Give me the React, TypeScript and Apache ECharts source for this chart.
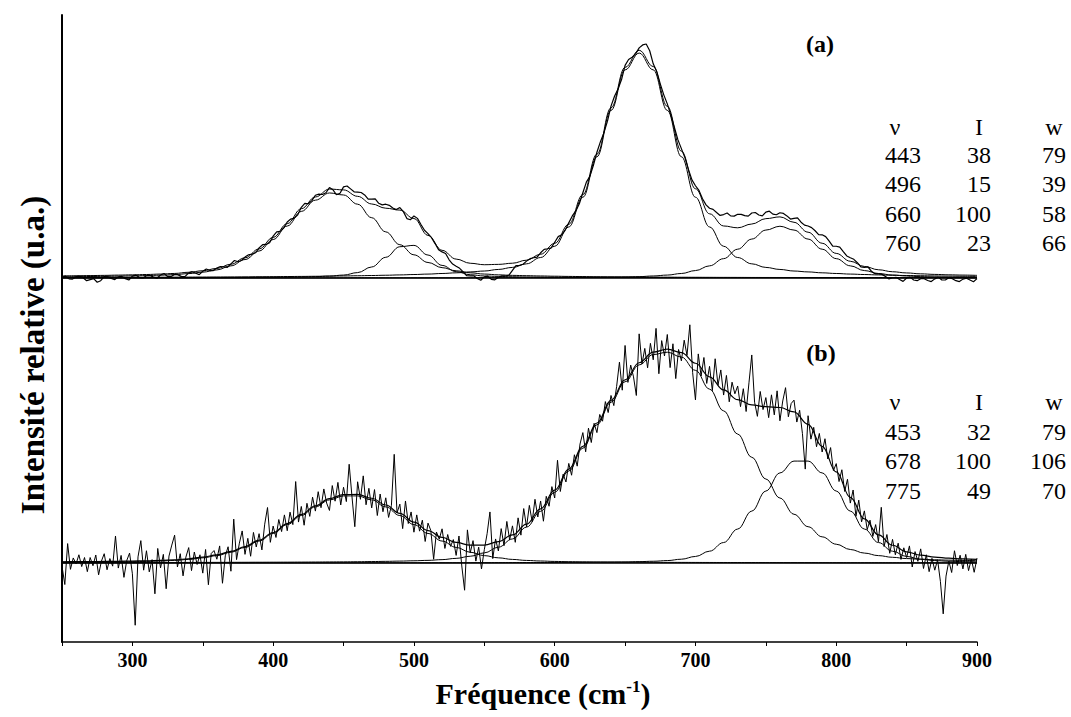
import React, { useEffect, useRef } from "react";
import * as echarts from "echarts";

// ---------- axis ----------
const X_MIN = 250;
const X_MAX = 900;
const X_LABELS = [300, 400, 500, 600, 700, 800, 900];

// ---------- fitted components (sampled every 10 cm-1 from 250) ----------
const FIT_START = 250;
const FIT_STEP = 10;

// panel (a)
const fitA_443 = [0.53,0.59,0.66,0.73,0.83,0.94,1.07,1.25,1.5,1.95,
  2.6,3.6,5.4,8.2,12.0,17.1,23.1,29.6,34.6,37.8,
  36.9,32.8,26.8,20.5,14.8,10.3,6.9,4.6,3.2,2.3,
  1.75,1.4,1.17,1.02,0.9,0.79,0.7,0.63,0.57,0.52,
  0.47,0.43,0.39,0.36,0.33,0.31,0.29,0.27,0.26,0.24,
  0.23,0.22,0.21,0.2,0.19,0.18,0.18,0.17,0.17,0.16,
  0.15,0.15,0.14,0.13,0.13,0.12];
const fitA_496 = [0.1,0.1,0.1,0.1,0.1,0.1,0.1,0.1,0.1,0.15,
  0.15,0.15,0.2,0.2,0.3,0.3,0.35,0.45,0.6,0.85,
  1.3,2.4,4.9,9.2,13.9,14.5,10.2,5.6,2.8,1.45,
  0.9,0.7,0.55,0.45,0.4,0.35,0.3,0.3,0.25,0.25,
  0.2,0.2,0.2,0.15,0.15,0.15,0.15,0.15,0.15,0.15,
  0.15,0.15,0.15,0.15,0.15,0.15,0.12,0.12,0.12,0.1,
  0.1,0.1,0.1,0.1,0.1,0.1];
const fitA_660 = [0.24,0.26,0.27,0.28,0.3,0.31,0.33,0.35,0.37,0.4,
  0.42,0.45,0.48,0.52,0.56,0.6,0.65,0.7,0.76,0.83,
  0.91,1.0,1.1,1.22,1.37,1.54,1.74,2.0,2.3,2.7,
  3.1,3.8,4.7,6.3,9.1,14.1,22.7,35.9,53.9,74.5,
  92.5,100,92.5,74.5,53.9,35.9,22.7,14.1,9.1,6.3,
  4.7,3.8,3.1,2.7,2.3,2.0,1.74,1.54,1.37,1.22,
  1.1,1.0,0.91,0.83,0.76,0.7];
const fitA_760 = [0.05,0.05,0.05,0.05,0.05,0.05,0.05,0.05,0.05,0.05,
  0.05,0.05,0.05,0.05,0.05,0.05,0.05,0.05,0.05,0.05,
  0.05,0.1,0.1,0.1,0.1,0.1,0.1,0.1,0.1,0.1,
  0.15,0.15,0.15,0.15,0.15,0.15,0.2,0.25,0.3,0.35,
  0.45,0.6,0.9,1.3,2.0,3.3,5.4,8.6,12.8,17.3,
  21.3,23,21.3,17.3,12.8,8.6,5.4,3.3,2.0,1.3,
  0.9,0.6,0.45,0.35,0.3,0.25];
const fitA_sum = [0.92,1.0,1.08,1.16,1.28,1.4,1.55,1.75,2.02,2.55,
  3.22,4.25,6.13,8.97,12.91,18.05,24.15,30.8,36.01,39.53,
  39.16,36.3,32.9,31.02,30.17,26.44,18.94,12.3,8.4,6.55,
  5.9,6.05,6.57,7.92,10.55,15.39,23.9,37.08,55.02,75.62,
  93.62,101.23,93.99,76.31,56.38,39.66,28.54,23.12,22.31,23.99,
  26.38,27.17,24.76,20.35,15.44,10.93,7.44,5.13,3.66,2.78,
  2.25,1.85,1.6,1.41,1.29,1.17];

// panel (b)
const fitB_453 = [0.36,0.39,0.43,0.48,0.54,0.62,0.75,0.95,1.22,1.7,
  2.45,3.5,5.1,7.4,10.4,14.0,18.2,22.5,26.6,29.9,
  31.8,31.8,29.9,26.6,22.5,18.2,14.0,10.4,7.4,5.1,
  3.5,2.45,1.7,1.22,0.95,0.75,0.62,0.54,0.48,0.43,
  0.39,0.36,0.33,0.3,0.29,0.27,0.25,0.24,0.22,0.21,
  0.2,0.19,0.18,0.17,0.16,0.15,0.14,0.13,0.13,0.12,
  0.12,0.11,0.11,0.1,0.1,0.1];
const fitB_678 = [0.19,0.2,0.2,0.21,0.22,0.23,0.24,0.25,0.26,0.27,
  0.29,0.3,0.32,0.34,0.36,0.38,0.4,0.43,0.46,0.5,
  0.54,0.6,0.68,0.78,0.9,1.05,1.25,1.6,2.2,3.2,
  4.8,7.5,11.4,17.0,24.5,33.5,43.6,54.4,65.5,76.2,
  85.9,93.9,98.8,99.9,97.6,91.3,82.4,72.1,61.1,50.1,
  39.8,30.8,23.1,17.2,12.4,8.9,6.4,4.7,3.5,2.7,
  2.1,1.79,1.53,1.35,1.21,1.09];
const fitB_775 = [0.04,0.04,0.04,0.04,0.05,0.05,0.05,0.05,0.05,0.05,
  0.06,0.06,0.06,0.06,0.07,0.07,0.07,0.08,0.08,0.08,
  0.09,0.09,0.1,0.1,0.1,0.11,0.12,0.13,0.14,0.15,
  0.16,0.18,0.2,0.22,0.24,0.27,0.3,0.34,0.38,0.43,
  0.5,0.65,0.83,1.15,1.8,3.1,5.6,9.7,16.1,24.6,
  34.1,42.7,48.3,48.3,42.7,34.1,24.6,16.1,9.7,5.6,
  3.1,1.8,1.15,0.83,0.65,0.54];
const fitB_sum = [0.59,0.63,0.67,0.73,0.81,0.9,1.04,1.25,1.53,2.02,
  2.8,3.86,5.48,7.8,10.83,14.45,18.67,23.01,27.14,30.48,
  32.43,32.49,30.68,27.48,23.5,19.36,15.37,12.13,9.74,8.45,
  8.46,10.13,13.3,18.44,25.69,34.52,44.52,55.28,66.36,77.06,
  86.79,94.91,99.96,101.35,99.69,94.67,88.25,82.04,77.42,74.91,
  74.1,73.69,71.58,65.67,55.26,43.15,31.14,20.93,13.33,8.42,
  5.32,3.7,2.79,2.28,1.96,1.73];

// ---------- measured spectra ----------
const SPEC_A_START = 250;
const SPEC_A_STEP = 2.5;
const specA = [0.3,0.8,-0.4,-0.5,0.6,0.8,0.1,-1.2,-0.7,-0.3,
  -1.9,-1.2,0.6,0.5,-0.2,-0.7,0.5,0.7,-0.3,-0.9,
  0.8,1.3,0.2,0.0,1.0,1.1,0.4,-0.1,1.3,2.0,
  0.7,0.7,1.6,1.4,0.6,0.7,2.3,2.8,2.1,1.5,
  3.0,4.0,3.3,3.3,4.4,5.1,4.9,4.7,6.3,7.8,
  7.2,7.8,9.3,10.3,10.6,11.2,13.4,14.8,14.9,15.7,
  18.6,20.5,20.7,22.2,24.9,26.2,26.6,28.1,31.4,33.2,
  33.0,34.4,36.8,37.3,37.1,37.9,40.2,39.2,37.0,37.7,
  40.5,40.9,39.6,38.3,38.2,38.0,36.9,35.1,35.1,35.2,
  33.2,32.5,32.8,32.3,31.1,30.4,31.3,29.5,26.4,25.9,
  27.6,26.5,23.8,21.2,19.7,17.9,15.3,12.6,11.6,10.9,
  8.1,6.2,5.2,4.3,2.7,1.0,0.9,1.0,-0.2,-1.0,
  0.5,0.8,-0.6,-0.8,0.3,1.0,0.9,1.3,3.4,5.5,
  5.6,6.1,7.5,8.6,9.0,9.3,11.2,12.7,13.0,13.4,
  15.9,18.4,19.2,21.3,24.5,27.6,29.8,33.0,37.9,42.6,
  45.2,50.1,55.9,60.6,64.6,69.7,76.4,80.8,84.0,88.2,
  94.5,97.1,98.1,99.6,102.3,103.6,104.0,101.0,95.2,91.8,
  86.3,81.4,77.4,72.5,67.0,61.5,57.5,53.5,48.3,43.6,
  41.0,38.9,35.2,32.5,31.0,30.5,29.1,27.8,28.2,28.9,
  27.6,27.5,28.3,28.3,27.7,27.5,28.9,29.1,28.0,27.6,
  29.3,29.7,28.4,28.1,29.0,28.7,27.6,26.2,26.5,26.7,
  24.8,23.5,23.1,22.4,21.0,19.3,19.2,18.4,16.4,14.2,
  14.1,13.7,11.7,9.8,9.0,8.3,6.8,4.9,4.7,4.9,
  3.0,1.9,1.8,1.6,0.7,-0.4,0.1,0.3,-0.7,-1.5,
  0.0,0.4,-0.9,-1.2,-0.3,-0.3,-1.1,-1.6,-0.4,0.4,
  -0.9,-0.9,0.1,-0.3,-1.2,-1.6,-0.5,-0.1,-0.9,-1.7,
  -0.3];

const SPEC_B_START = 250;
const SPEC_B_STEP = 2;
const specB = [-1.5,-10.2,9.2,-3.0,2.4,-0.4,3.9,-1.7,2.6,-4.1,
  2.6,-1.3,3.8,-5.6,0.9,4.4,-3.2,2.1,-1.5,12.8,
  -2.4,3.6,-6.8,1.2,4.7,-5.1,-29.5,2.9,10.6,-3.4,
  5.8,-4.2,1.6,-14.6,6.9,-2.3,4.1,-12.2,3.3,8.5,
  13.2,-1.9,4.4,-6.1,2.8,7.3,-3.6,5.2,-0.7,3.9,
  -4.8,6.4,-10.3,4.5,5.9,1.8,8.1,-9.6,3.4,7.7,
  -3.9,20.8,1.6,9.4,15.2,4.1,11.7,3.2,14.5,7.6,
  13.9,6.2,18.4,26.3,9.8,17.5,12.1,20.6,14.9,22.8,
  15.3,24.1,18.2,38.6,19.4,26.8,17.9,28.3,22.1,31.2,
  24.6,33.8,26.2,35.1,28.4,24.9,36.7,29.3,38.2,27.5,
  35.9,29.1,46.8,31.4,17.2,38.5,30.2,41.3,27.6,35.4,
  26.1,34.8,22.5,32.7,24.3,30.9,21.6,27.2,51.5,23.8,
  27.9,16.3,29.4,18.7,24.2,14.6,22.8,15.1,20.3,10.2,
  18.9,15.4,1.8,14.7,11.3,16.2,6.9,13.5,7.9,11.1,
  3.6,12.8,-1.4,-12.9,15.7,4.8,10.6,0.9,7.5,-2.8,
  6.3,13.9,24.2,2.1,11.4,5.7,16.3,8.2,19.7,10.9,
  17.6,9.8,21.4,13.2,25.8,17.1,27.3,19.6,30.2,21.8,
  29.4,19.8,31.6,26.9,36.2,30.8,48.7,33.9,42.1,38.4,
  47.2,41.6,51.3,45.9,56.4,61.8,52.7,63.9,57.1,66.2,
  61.8,70.4,67.2,76.5,71.3,79.4,74.6,83.7,95.2,81.9,
  103.1,85.6,93.8,88.2,79.4,108.6,94.3,101.7,92.5,104.1,
  96.3,111.2,89.7,105.4,98.1,108.3,92.6,103.9,87.4,101.2,
  95.8,105.6,98.4,112.9,90.2,77.3,99.1,88.6,97.4,85.1,
  93.2,81.7,96.8,84.3,91.5,79.6,88.9,76.4,85.7,80.2,
  83.9,74.1,82.6,71.8,85.4,98.6,76.2,69.5,81.3,72.7,
  78.4,68.9,79.7,70.2,81.6,67.4,76.8,83.1,69.3,75.6,
  77.2,66.8,72.4,61.3,44.5,69.8,58.7,64.3,55.1,61.4,
  52.6,58.9,49.3,54.7,43.8,47.1,38.6,44.2,33.9,39.7,
  28.4,34.6,22.1,29.8,19.5,24.7,15.8,20.3,12.6,18.2,
  10.1,26.4,7.8,13.5,4.6,11.2,3.9,9.4,1.7,7.2,
  2.6,8.1,-1.9,5.4,0.8,6.7,-2.6,3.9,-4.1,2.2,
  -3.4,1.5,-8.7,-24.1,-6.2,0.9,-4.5,5.8,-1.2,3.7,
  -2.8,4.1,-3.6,1.9,-4.4,2.3];

// ---------- fit tables ----------
const tableA_nu = ["443", "496", "660", "760"];
const tableA_I = ["38", "15", "100", "23"];
const tableA_w = ["79", "39", "58", "66"];
const tableB_nu = ["453", "678", "775"];
const tableB_I = ["32", "100", "49"];
const tableB_w = ["79", "106", "70"];

const FONT = "'Liberation Serif', 'Times New Roman', Times, serif";

const toPairs = (start: number, step: number, vals: number[]) =>
  vals.map((v, i) => [start + i * step, v]);

const lineSeries = (data: number[][], yAxisIndex: number, width: number, smooth: boolean | number) => ({
  type: "line",
  data,
  xAxisIndex: 0,
  yAxisIndex,
  symbol: "none",
  showSymbol: false,
  smooth,
  smoothMonotone: "x",
  silent: true,
  lineStyle: { color: "#000", width },
});

const txt = (x: number, y: number, text: string, size: number, align: string, bold = false) => ({
  type: "text",
  x,
  y,
  silent: true,
  style: {
    text,
    fill: "#000",
    fontFamily: FONT,
    fontSize: size,
    fontWeight: bold ? "bold" : "normal",
    align,
    verticalAlign: "middle",
    textAlign: align,
    textVerticalAlign: "middle",
  },
});

function tableGraphics(nu: string[], I: string[], w: string[], headerY: number, rowY0: number, dy: number) {
  const els: any[] = [
    txt(895, headerY, "ν", 24, "center"),
    txt(979, headerY, "I", 24, "center"),
    txt(1054, headerY, "w", 24, "center"),
  ];
  nu.forEach((v, i) => {
    const y = rowY0 + i * dy;
    els.push(txt(885, y, v, 24, "left"));
    els.push(txt(991, y, I[i], 24, "right"));
    els.push(txt(1066, y, w[i], 24, "right"));
  });
  return els;
}

export default function App() {
  const ref = useRef<HTMLDivElement>(null);
  useEffect(() => {
    if (!ref.current) return;
    const chart = echarts.init(ref.current, undefined, { renderer: "svg" });
    const fit = (arr: number[]) => toPairs(FIT_START, FIT_STEP, arr);
    const option: any = {
      animation: false,
      backgroundColor: "#fff",
      grid: { left: 62, right: 94, top: 15, bottom: 75 },
      xAxis: {
        type: "value",
        min: X_MIN,
        max: X_MAX,
        interval: 50,
        axisLine: { onZero: false, lineStyle: { color: "#000", width: 1.5 } },
        axisTick: { show: true, length: 4, lineStyle: { color: "#000", width: 1 } },
        axisLabel: {
          formatter: (v: number) => (X_LABELS.includes(v) ? String(v) : ""),
          color: "#000",
          fontFamily: FONT,
          fontWeight: "bold",
          fontSize: 20,
          margin: 8,
        },
        splitLine: { show: false },
      },
      yAxis: [
        {
          type: "value",
          min: -161.8,
          max: 116.9,
          axisLine: { show: true, onZero: false, lineStyle: { color: "#000", width: 2 } },
          axisTick: { show: false },
          axisLabel: { show: false },
          splitLine: { show: false },
        },
        {
          type: "value",
          min: -37.44,
          max: 259.72,
          show: false,
          splitLine: { show: false },
        },
      ],
      series: [
        // panel (a)
        lineSeries([[X_MIN, 0], [X_MAX, 0]], 0, 1.6, false),
        lineSeries(fit(fitA_443), 0, 1, 0.4),
        lineSeries(fit(fitA_496), 0, 1, 0.4),
        lineSeries(fit(fitA_660), 0, 1, 0.4),
        lineSeries(fit(fitA_760), 0, 1, 0.4),
        lineSeries(fit(fitA_sum), 0, 1, 0.4),
        lineSeries(toPairs(SPEC_A_START, SPEC_A_STEP, specA), 0, 1.2, false),
        // panel (b)
        lineSeries([[X_MIN, 0], [X_MAX, 0]], 1, 1.6, false),
        lineSeries(fit(fitB_453), 1, 1, 0.4),
        lineSeries(fit(fitB_678), 1, 1, 0.4),
        lineSeries(fit(fitB_775), 1, 1, 0.4),
        lineSeries(fit(fitB_sum), 1, 1.2, 0.4),
        lineSeries(toPairs(SPEC_B_START, SPEC_B_STEP, specB), 1, 1, false),
      ],
      graphic: [
        txt(820, 44, "(a)", 24, "center", true),
        txt(821, 353, "(b)", 24, "center", true),
        ...tableGraphics(tableA_nu, tableA_I, tableA_w, 127, 155, 29.3),
        ...tableGraphics(tableB_nu, tableB_I, tableB_w, 402, 431.5, 29.7),
        {
          type: "text",
          x: 543,
          y: 693,
          silent: true,
          style: {
            text: "Fréquence (cm{sup|-1})",
            fill: "#000",
            fontFamily: FONT,
            fontSize: 30,
            fontWeight: "bold",
            align: "center",
            verticalAlign: "middle",
            textAlign: "center",
            textVerticalAlign: "middle",
            rich: {
              sup: { fontSize: 17, fontWeight: "bold", fontFamily: FONT, verticalAlign: "top", fill: "#000" },
            },
          },
        },
        {
          type: "text",
          x: 33,
          y: 355,
          rotation: Math.PI / 2,
          silent: true,
          style: {
            text: "Intensité relative (u.a.)",
            fill: "#000",
            fontFamily: FONT,
            fontSize: 33,
            fontWeight: "bold",
            align: "center",
            verticalAlign: "middle",
            textAlign: "center",
            textVerticalAlign: "middle",
          },
        },
      ],
    };
    chart.setOption(option);
    return () => chart.dispose();
  }, []);
  return (
    <div
      ref={ref}
      style={{ position: "absolute", left: 0, top: 0, width: 1071, height: 717, background: "#fff" }}
    />
  );
}
